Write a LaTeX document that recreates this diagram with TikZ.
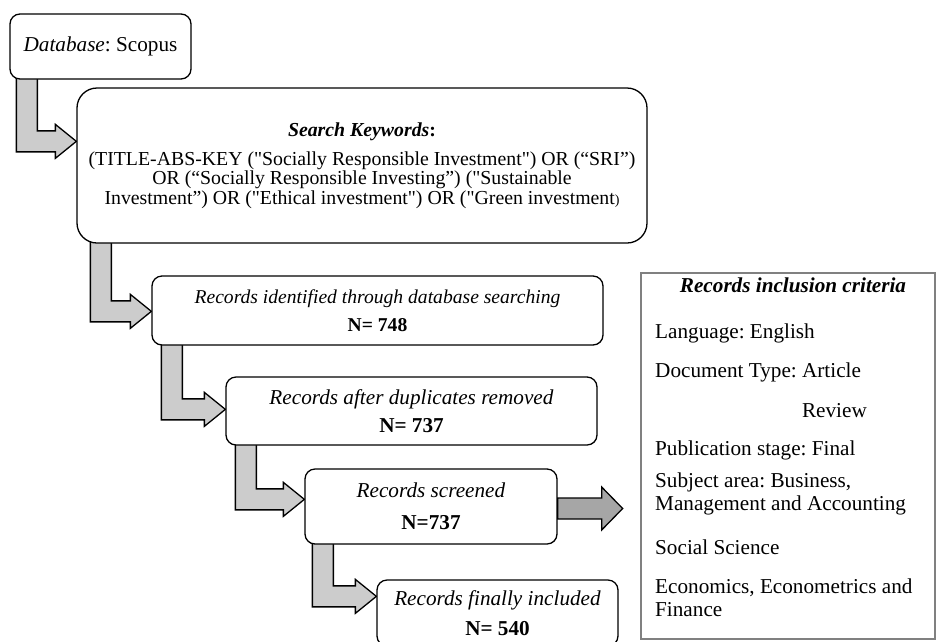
\documentclass[tikz,border=0pt]{standalone}
\usepackage{fontspec}
\setmainfont{Liberation Serif}[Ligatures=TeXOff]
\usepackage{tikz}
\usetikzlibrary{calc,backgrounds}
\frenchspacing
\definecolor{arrgray}{HTML}{CCCCCC}
\definecolor{arrdark}{HTML}{A6A6A6}
\definecolor{critgray}{HTML}{808080}
\tikzstyle{rec_box} = [rectangle, rounded corners=10pt, draw=black, line width=1.3pt, fill=white, align=center, inner sep=0pt, font=\fontsize{21.2}{28}\selectfont]
\tikzstyle{crit_box} = [rectangle, draw=critgray, line width=1.3pt, fill=white, inner sep=0pt]
\tikzstyle{crit_txt} = [anchor=west, inner sep=0pt, align=left, font=\fontsize{21.2}{23}\selectfont]
\tikzstyle{elbow_arr} = [draw=black, line width=1.3pt, fill=arrgray]
\tikzstyle{side_arr} = [draw=black, line width=1.3pt, fill=arrdark]

\newcommand{\elbowarr}[4]{%
  \path[elbow_arr] let \p1 = (#1.south west), \p2 = ($(#3.north west)+(0,#4)$) in
    (\x1+#2pt,\y1+4pt) -- (\x1+#2pt+21pt,\y1+4pt) -- (\x1+#2pt+21pt,\y2+10.5pt) -- (\x2-21pt,\y2+10.5pt)
    -- (\x2-21pt,\y2+17pt) -- (\x2,\y2) -- (\x2-21pt,\y2-17pt) -- (\x2-21pt,\y2-10.5pt)
    -- (\x1+#2pt,\y2-10.5pt) -- cycle;
}

\begin{document}
\begin{tikzpicture}[x=1pt,y=-1pt]
\useasboundingbox (0,0) rectangle (936,641);
\clip (0,0) rectangle (936,641);

\node [rec_box, minimum width=181pt, minimum height=65pt] (db) at (100.5,46.5) {\textit{Database}: Scopus};
\node [rec_box, rounded corners=20pt, minimum width=570pt, minimum height=155pt, font=\fontsize{19.8}{19.5}\selectfont] (search) at (362,165.5)
    {\textbf{\textit{Search Keywords}:}\\[9.5pt]
     (TITLE-ABS-KEY ("Socially Responsible Investment") OR (“SRI”)\\
     OR (“Socially Responsible Investing”) ("Sustainable\\
     Investment”) OR ("Ethical investment") OR ("Green investment{\fontsize{14}{14}\selectfont )}};
\node [rec_box, minimum width=451pt, minimum height=69pt, font=\fontsize{19.6}{28}\selectfont] (ident) at (377.5,310.5) {\textit{Records identified through database searching}\\ \textbf{N= 748}};
\node [rec_box, minimum width=371pt, minimum height=68pt] (dup) at (411.5,411) {\textit{Records after duplicates removed}\\ \textbf{N= 737}};
\node [rec_box, minimum width=252pt, minimum height=75pt, font=\fontsize{21.2}{32}\selectfont] (screen) at (431,506.5) {\textit{Records screened}\\ \textbf{N=737}};
\node [rec_box, minimum width=241pt, minimum height=66pt, font=\fontsize{21.2}{30}\selectfont] (incl) at (497.5,613) {\textit{Records finally included}\\ \textbf{N= 540}};

\node [crit_box, minimum width=294pt, minimum height=366pt] (crit) at (788,456) {};
\node [crit_txt, anchor=center, font=\fontsize{21.2}{24}\selectfont\bfseries\itshape] (crit-title) at (793,285) {Records inclusion criteria};
\foreach \yy/\txt [count=\i] in {333/{Language: English}, 372/{Document Type: Article}, 411/{\hphantom{Document Type: }Review},
    450/{Publication stage: Final}, 494/{Subject area: Business,\\Management and Accounting}, 547/{Social Science},
    598/{Economics, Econometrics and\\Finance}}
    \node [crit_txt] (crit-\i) at (655,\yy) {\txt};

\begin{pgfonlayer}{background}
\elbowarr{db}{7}{search}{54}
\elbowarr{search}{14}{ident}{36}
\elbowarr{ident}{10}{dup}{33}
\elbowarr{dup}{10}{screen}{31}
\elbowarr{screen}{8}{incl}{17}
\end{pgfonlayer}
\path[side_arr] let \p1 = ($(screen.east)+(0,2)$) in
    (\x1,\y1+10.5pt) -- (\x1+44pt,\y1+10.5pt) -- (\x1+44pt,\y1+21.5pt) -- (\x1+65pt,\y1)
    -- (\x1+44pt,\y1-21.5pt) -- (\x1+44pt,\y1-10.5pt) -- (\x1,\y1-10.5pt) -- cycle;
\end{tikzpicture}
\end{document}
